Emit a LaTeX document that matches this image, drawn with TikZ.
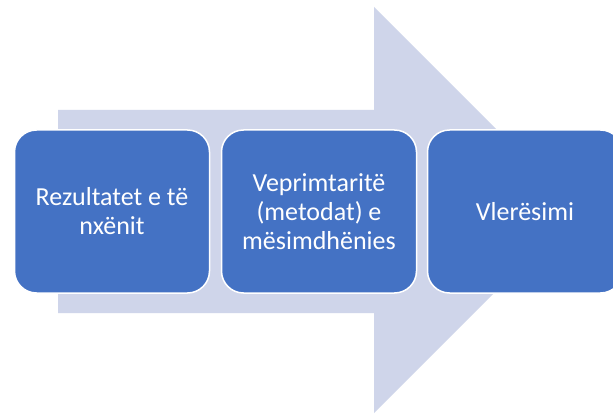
\documentclass[tikz,border=0pt]{standalone}
\usepackage{fontspec}
\setmainfont{Carlito}
\definecolor{arrowfill}{HTML}{CFD5EA}
\definecolor{boxfill}{HTML}{4472C4}
\begin{document}
\begin{tikzpicture}[x=1pt,y=-1pt,
  stepbox/.style={draw=white, line width=1.5pt, fill=boxfill, rounded corners=22pt,
    minimum width=195pt, minimum height=163pt, inner sep=0pt, text=white, align=center,
    font=\fontsize{26}{29}\selectfont, anchor=center}]
\useasboundingbox (0,0) rectangle (613,414);
\clip (0,0) rectangle (613,414);
\fill[white] (0,0) rectangle (613,414);
% big arrow
\fill[arrowfill] (58,110) -- (374,110) -- (374,7) -- (577,210) -- (374,413) -- (374,313) -- (58,313) -- cycle;
% boxes
\node[stepbox] (b1) at (112,211.5) {Rezultatet e të\\nxënit};
\node[stepbox] (b2) at (319,211.5) {Veprimtaritë\\(metodat) e\\mësimdhënies};
\node[stepbox] (b3) at (525,211.5) {Vlerësimi};
\end{tikzpicture}
\end{document}
